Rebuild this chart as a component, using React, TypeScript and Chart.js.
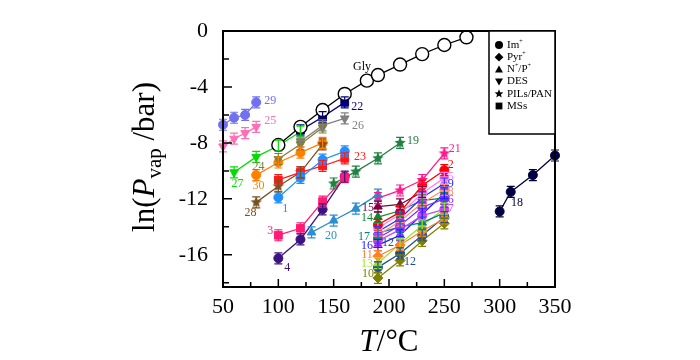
import React, { useEffect, useRef } from "react";
import { Chart, registerables } from "chart.js";
Chart.register(...registerables);

const SERIF = "'Liberation Serif','Times New Roman',serif";

const xTickValues = [50, 100, 150, 200, 250, 300, 350];
const yTickValues = [-16, -12, -8, -4, 0];
const xRange = [50, 350];
const yRange = [-18.3, 0];

// Glycerol reference
const tGly = [100, 120, 140, 160, 180, 190, 210, 230, 250, 270];
const pGly = [-8.15, -6.85, -5.65, -4.5, -3.55, -3.15, -2.4, -1.65, -1.0, -0.45];

// left group
const t100 = [100, 120, 140, 160];
const p1 = [-11.9, -10.5, -9.2, -8.6];
const p3 = [-14.6, -14.1, -12.2, -10.45];
const p4 = [-16.25, -14.9, -12.75, -10.4];
const p23 = [-10.65, -10.1, -9.65, -9.1];
const t22 = [120, 140, 160];
const p22 = [-7.1, -6.15, -5.1];
const t24 = [100, 120, 140];
const p24 = [-9.15, -8.1, -6.9];
const t26 = [120, 140, 160];
const p26 = [-7.9, -6.75, -6.25];
const t25 = [50, 60, 70, 80];
const p25 = [-8.25, -7.7, -7.3, -6.85];
const t29 = [50, 60, 70, 80];
const p29 = [-6.7, -6.2, -6.0, -5.1];
const t27 = [60, 80, 100, 120];
const p27 = [-10.1, -9.0, -8.2, -7.2];
const t28 = [80, 100, 120, 140];
const p28 = [-12.25, -11.1, -10.1, -8.1];
const t30 = [80, 100, 120, 140];
const p30 = [-10.3, -9.4, -8.7, -8.0];
const t20 = [130, 150, 170, 190];
const p20 = [-14.4, -13.55, -12.7, -11.7];
const t19 = [150, 170, 190, 210];
const p19 = [-10.9, -10.05, -9.1, -8.0];
const t18 = [300, 310, 330, 350];
const p18 = [-12.9, -11.5, -10.3, -8.9];

// right cluster
const t190 = [190, 210, 230, 250];
const p21 = [-11.95, -11.4, -10.65, -8.75];
const p2 = [-13.85, -12.95, -11.05, -9.95];
const p5 = [-14.1, -13.1, -11.6, -10.5];
const p9 = [-14.35, -13.4, -11.9, -10.9];
const p8 = [-14.6, -13.6, -12.3, -11.35];
const p6 = [-14.8, -13.9, -12.6, -12.0];
const p7 = [-15.0, -14.2, -13.2, -12.75];
const p14 = [-13.3, -12.85, -12.1, -11.95];
const t15 = [190, 210, 230];
const p15 = [-12.55, -12.4, -11.5];
const p17 = [-14.45, -14.0, -13.7, -13.0];
const p16 = [-15.3, -14.6, -13.1, -11.6];
const p11 = [-16.1, -15.3, -14.3, -13.4];
const p13 = [-16.6, -15.2, -13.9, -12.7];
const p12 = [-16.9, -15.9, -14.6, -13.3];
const p10 = [-17.65, -16.4, -15.0, -13.75];

type S = { id: string; t: number[]; p: number[]; color: string; shape: string };
const series: S[] = [
  { id: "Gly", t: tGly, p: pGly, color: "#000000", shape: "open" },
  { id: "1", t: t100, p: p1, color: "#1e90ff", shape: "circle" },
  { id: "3", t: t100, p: p3, color: "#ff1a75", shape: "rect" },
  { id: "4", t: t100, p: p4, color: "#3d1382", shape: "circle" },
  { id: "23", t: t100, p: p23, color: "#ff1a1a", shape: "rect" },
  { id: "22", t: t22, p: p22, color: "#000080", shape: "rect" },
  { id: "24", t: t24, p: p24, color: "#7f7f3a", shape: "down" },
  { id: "26", t: t26, p: p26, color: "#808080", shape: "down" },
  { id: "25", t: t25, p: p25, color: "#ff6eb4", shape: "down" },
  { id: "29", t: t29, p: p29, color: "#7070f0", shape: "circle" },
  { id: "27", t: t27, p: p27, color: "#00dd00", shape: "down" },
  { id: "28", t: t28, p: p28, color: "#7a5020", shape: "star" },
  { id: "30", t: t30, p: p30, color: "#ff8000", shape: "circle" },
  { id: "20", t: t20, p: p20, color: "#2a8fd0", shape: "triangle" },
  { id: "19", t: t19, p: p19, color: "#208040", shape: "star" },
  { id: "18", t: t18, p: p18, color: "#000040", shape: "circle" },
  { id: "21", t: t190, p: p21, color: "#ff1a8c", shape: "star" },
  { id: "2", t: t190, p: p2, color: "#ff0000", shape: "circle" },
  { id: "5", t: t190, p: p5, color: "#ff80ff", shape: "circle" },
  { id: "9", t: t190, p: p9, color: "#2f2fff", shape: "triangle" },
  { id: "8", t: t190, p: p8, color: "#ff8c7a", shape: "circle" },
  { id: "6", t: t190, p: p6, color: "#7f2aff", shape: "circle" },
  { id: "7", t: t190, p: p7, color: "#cc44ff", shape: "circle" },
  { id: "14", t: t190, p: p14, color: "#0d8a2e", shape: "triangle" },
  { id: "15", t: t15, p: p15, color: "#800040", shape: "triangle" },
  { id: "17", t: t190, p: p17, color: "#008080", shape: "triangle" },
  { id: "16", t: t190, p: p16, color: "#1a1aff", shape: "triangle" },
  { id: "11", t: t190, p: p11, color: "#ff7f27", shape: "rectRot" },
  { id: "13", t: t190, p: p13, color: "#9be22d", shape: "triangle" },
  { id: "12", t: t190, p: p12, color: "#1f4f8f", shape: "circle" },
  { id: "10", t: t190, p: p10, color: "#808000", shape: "rectRot" },
];

type L = { text: string; t: number; p: number; color: string };
const labels: L[] = [
  { text: "29", t: 92.8, p: -5.0, color: "#7070f0" },
  { text: "25", t: 92.8, p: -6.43, color: "#ff6eb4" },
  { text: "Gly", t: 175.7, p: -2.57, color: "#000000" },
  { text: "22", t: 171.2, p: -5.43, color: "#000080" },
  { text: "26", t: 172.1, p: -6.79, color: "#808080" },
  { text: "27", t: 63.1, p: -10.93, color: "#00dd00" },
  { text: "24", t: 82.0, p: -9.71, color: "#7f7f3a" },
  { text: "30", t: 82.0, p: -11.07, color: "#ff8000" },
  { text: "23", t: 173.9, p: -9.0, color: "#ff1a1a" },
  { text: "19", t: 221.6, p: -7.86, color: "#208040" },
  { text: "28", t: 74.8, p: -12.98, color: "#7a5020" },
  { text: "1", t: 106.3, p: -12.71, color: "#1e90ff" },
  { text: "3", t: 92.8, p: -14.29, color: "#ff1a75" },
  { text: "4", t: 108.1, p: -16.93, color: "#3d1382" },
  { text: "20", t: 147.7, p: -14.64, color: "#2a8fd0" },
  { text: "21", t: 259.5, p: -8.43, color: "#ff1a8c" },
  { text: "2", t: 255.9, p: -9.57, color: "#ff0000" },
  { text: "5", t: 255.9, p: -10.43, color: "#ff80ff" },
  { text: "9", t: 255.9, p: -10.93, color: "#2f2fff" },
  { text: "8", t: 255.9, p: -11.5, color: "#ff8c7a" },
  { text: "6", t: 255.9, p: -12.07, color: "#7f2aff" },
  { text: "7", t: 255.9, p: -12.71, color: "#cc44ff" },
  { text: "15", t: 181.1, p: -12.64, color: "#800040" },
  { text: "14", t: 180.2, p: -13.36, color: "#0d8a2e" },
  { text: "17", t: 177.5, p: -14.71, color: "#008080" },
  { text: "16", t: 180.2, p: -15.36, color: "#1a1aff" },
  { text: "11", t: 180.2, p: -16.0, color: "#ff7f27" },
  { text: "13", t: 180.2, p: -16.64, color: "#9be22d" },
  { text: "10", t: 181.1, p: -17.36, color: "#808000" },
  { text: "12", t: 199.0, p: -15.14, color: "#1f4f8f" },
  { text: "12", t: 218.9, p: -16.5, color: "#1f4f8f" },
  { text: "18", t: 315.6, p: -12.31, color: "#000040" },
];

type Seg = { s: string; sup?: boolean };
const legendShapes = ["circle", "diamond", "triangle", "down", "star", "square"];
const legendTexts: Seg[][] = [
  [{ s: "Im" }, { s: "+", sup: true }],
  [{ s: "Pyr" }, { s: "+", sup: true }],
  [{ s: "N" }, { s: "+", sup: true }, { s: "/P" }, { s: "+", sup: true }],
  [{ s: "DES" }],
  [{ s: "PILs/PAN" }],
  [{ s: "MSs" }],
];

function starPath(ctx: CanvasRenderingContext2D, cx: number, cy: number, R: number) {
  ctx.beginPath();
  for (let i = 0; i < 10; i++) {
    const a = -Math.PI / 2 + (i * Math.PI) / 5;
    const r = i % 2 ? R * 0.45 : R;
    const x = cx + r * Math.cos(a);
    const y = cy + r * Math.sin(a);
    if (i === 0) ctx.moveTo(x, y);
    else ctx.lineTo(x, y);
  }
  ctx.closePath();
}

function starImage(color: string, R: number) {
  const c = document.createElement("canvas");
  const s = Math.ceil(R * 2 + 2);
  c.width = s;
  c.height = s;
  const ctx = c.getContext("2d")!;
  starPath(ctx, s / 2, s / 2, R);
  ctx.fillStyle = color;
  ctx.fill();
  return c;
}

function drawShape(ctx: CanvasRenderingContext2D, shape: string, x: number, y: number, r: number) {
  ctx.beginPath();
  if (shape === "circle") ctx.arc(x, y, r, 0, Math.PI * 2);
  else if (shape === "diamond") {
    ctx.moveTo(x, y - r * 1.1); ctx.lineTo(x + r * 1.1, y); ctx.lineTo(x, y + r * 1.1); ctx.lineTo(x - r * 1.1, y); ctx.closePath();
  } else if (shape === "triangle") {
    ctx.moveTo(x, y - r); ctx.lineTo(x + r, y + r * 0.8); ctx.lineTo(x - r, y + r * 0.8); ctx.closePath();
  } else if (shape === "down") {
    ctx.moveTo(x, y + r); ctx.lineTo(x + r, y - r * 0.8); ctx.lineTo(x - r, y - r * 0.8); ctx.closePath();
  } else if (shape === "star") {
    starPath(ctx, x, y, r * 1.15);
  } else {
    ctx.rect(x - r * 0.85, y - r * 0.85, r * 1.7, r * 1.7);
  }
  ctx.fill();
}

const framePlugin = {
  id: "frame",
  afterDraw(chart: any) {
    const { ctx, chartArea: a, scales } = chart;
    const xs = scales.x, ys = scales.y;
    ctx.save();
    ctx.strokeStyle = "#000";
    ctx.lineWidth = 2;
    ctx.strokeRect(a.left, a.top, a.right - a.left, a.bottom - a.top);
    // inner ticks
    ctx.lineWidth = 1.5;
    ctx.beginPath();
    for (let v = xRange[0]; v <= xRange[1]; v += 25) {
      const px = xs.getPixelForValue(v);
      const len = v % 50 === 0 ? 8 : 5;
      if (v === xRange[0] || v === xRange[1]) continue;
      ctx.moveTo(px, a.bottom);
      ctx.lineTo(px, a.bottom - len);
    }
    for (let v = 0; v >= yRange[0]; v -= 2) {
      const py = ys.getPixelForValue(v);
      const len = v % 4 === 0 ? 9 : 6;
      if (v === 0) continue;
      ctx.moveTo(a.left, py);
      ctx.lineTo(a.left + len, py);
    }
    ctx.stroke();
    // legend box
    const bw = 66, bh = 103;
    const bx = a.right - bw, by = a.top;
    ctx.fillStyle = "#fff";
    ctx.fillRect(bx, by, bw, bh);
    ctx.lineWidth = 1.5;
    ctx.strokeRect(bx, by, bw, bh);
    ctx.fillStyle = "#000";
    ctx.textBaseline = "middle";
    for (let i = 0; i < legendShapes.length; i++) {
      const cy = by + 14 + i * 12.2;
      drawShape(ctx, legendShapes[i], bx + 10, cy, 4);
      let tx = bx + 18;
      for (const seg of legendTexts[i]) {
        ctx.font = seg.sup ? `6px ${SERIF}` : `11px ${SERIF}`;
        ctx.fillText(seg.s, tx, seg.sup ? cy - 4 : cy);
        tx += ctx.measureText(seg.s).width;
      }
    }
    // axis titles
    ctx.fillStyle = "#000";
    ctx.textBaseline = "alphabetic";
    const big = 31, small = 21;
    const ySegs = [
      { s: "ln(", f: `${big}px ${SERIF}`, dy: 0 },
      { s: "P", f: `italic ${big}px ${SERIF}`, dy: 0 },
      { s: "vap", f: `${small}px ${SERIF}`, dy: 7 },
      { s: " /bar)", f: `${big}px ${SERIF}`, dy: 0 },
    ];
    let w = 0;
    for (const s of ySegs) { ctx.font = s.f; w += ctx.measureText(s.s).width; }
    ctx.save();
    ctx.translate(154, 157);
    ctx.rotate(-Math.PI / 2);
    let cx = -w / 2;
    for (const s of ySegs) {
      ctx.font = s.f;
      ctx.fillText(s.s, cx, s.dy);
      cx += ctx.measureText(s.s).width;
    }
    ctx.restore();
    const xSegs = [
      { s: "T", f: `italic ${big}px ${SERIF}` },
      { s: "/°C", f: `${big}px ${SERIF}` },
    ];
    w = 0;
    for (const s of xSegs) { ctx.font = s.f; w += ctx.measureText(s.s).width; }
    cx = (a.left + a.right) / 2 - w / 2;
    for (const s of xSegs) {
      ctx.font = s.f;
      ctx.fillText(s.s, cx, 351);
      cx += ctx.measureText(s.s).width;
    }
    ctx.restore();
  },
};

const errPlugin = {
  id: "errbars",
  afterDatasetsDraw(chart: any) {
    const { ctx } = chart;
    ctx.save();
    chart.data.datasets.forEach((ds: any, i: number) => {
      if (!ds.errBar) return;
      const meta = chart.getDatasetMeta(i);
      ctx.strokeStyle = ds.borderColor;
      ctx.lineWidth = 1.2;
      ctx.beginPath();
      for (const el of meta.data) {
        const { x, y } = el;
        ctx.moveTo(x, y - 5.5); ctx.lineTo(x, y + 5.5);
        ctx.moveTo(x - 4, y - 5.5); ctx.lineTo(x + 4, y - 5.5);
        ctx.moveTo(x - 4, y + 5.5); ctx.lineTo(x + 4, y + 5.5);
      }
      ctx.stroke();
    });
    ctx.restore();
  },
};

const labelPlugin = {
  id: "labels",
  afterDatasetsDraw(chart: any) {
    const { ctx, scales } = chart;
    ctx.save();
    ctx.font = `12px ${SERIF}`;
    ctx.textAlign = "center";
    ctx.textBaseline = "middle";
    for (const l of labels) {
      ctx.fillStyle = l.color;
      ctx.fillText(l.text, scales.x.getPixelForValue(l.t), scales.y.getPixelForValue(l.p));
    }
    ctx.restore();
  },
};

export default function App() {
  const ref = useRef<HTMLCanvasElement>(null);
  useEffect(() => {
    const canvas = ref.current!;
    const datasets = series.map((s) => {
      const isGly = s.shape === "open";
      let pointStyle: any = s.shape;
      let rotation = 0;
      let radius = 4.5;
      if (s.shape === "down") { pointStyle = "triangle"; rotation = 180; radius = 5; }
      if (s.shape === "triangle") radius = 5;
      if (s.shape === "rect") radius = 5.5;
      if (s.shape === "rectRot") radius = 5;
      if (s.shape === "star") pointStyle = starImage(s.color, 6);
      if (isGly) { pointStyle = "circle"; radius = 6.5; }
      return {
        label: s.id,
        data: s.t.map((t, i) => ({ x: t, y: s.p[i] })),
        showLine: true,
        borderColor: s.color,
        backgroundColor: s.color,
        borderWidth: 1.3,
        pointStyle,
        pointRotation: rotation,
        pointRadius: radius,
        pointBackgroundColor: isGly ? "#ffffff" : s.color,
        pointBorderColor: s.color,
        pointBorderWidth: isGly ? 1.4 : 1,
        clip: false,
        errBar: !isGly,
      };
    });
    const chart = new Chart(canvas, {
      type: "scatter",
      data: { datasets } as any,
      plugins: [errPlugin, labelPlugin, framePlugin],
      options: {
        animation: false,
        responsive: false,
        devicePixelRatio: 1,
        events: [],
        layout: { padding: { left: 0, right: 145, top: 31, bottom: 0 } },
        plugins: { legend: { display: false }, tooltip: { enabled: false } },
        scales: {
          x: {
            type: "linear",
            min: xRange[0],
            max: xRange[1],
            grid: { display: false, drawTicks: false },
            border: { display: false },
            ticks: { color: "#000", font: { family: SERIF, size: 22 }, padding: 7, maxRotation: 0 },
            afterBuildTicks: (s: any) => { s.ticks = xTickValues.map((v) => ({ value: v })); },
            afterFit: (s: any) => { s.height = 73; },
          },
          y: {
            type: "linear",
            min: yRange[0],
            max: yRange[1],
            grid: { display: false, drawTicks: false },
            border: { display: false },
            ticks: { color: "#000", font: { family: SERIF, size: 22 }, padding: 15 },
            afterBuildTicks: (s: any) => { s.ticks = yTickValues.map((v) => ({ value: v })); },
            afterFit: (s: any) => { s.width = 223; },
          },
        },
      } as any,
    });
    return () => chart.destroy();
  }, []);
  return (
    <div style={{ position: "absolute", left: 0, top: 0, width: 700, height: 360, background: "#fff" }}>
      <canvas ref={ref} width={700} height={360} style={{ display: "block" }} />
    </div>
  );
}
